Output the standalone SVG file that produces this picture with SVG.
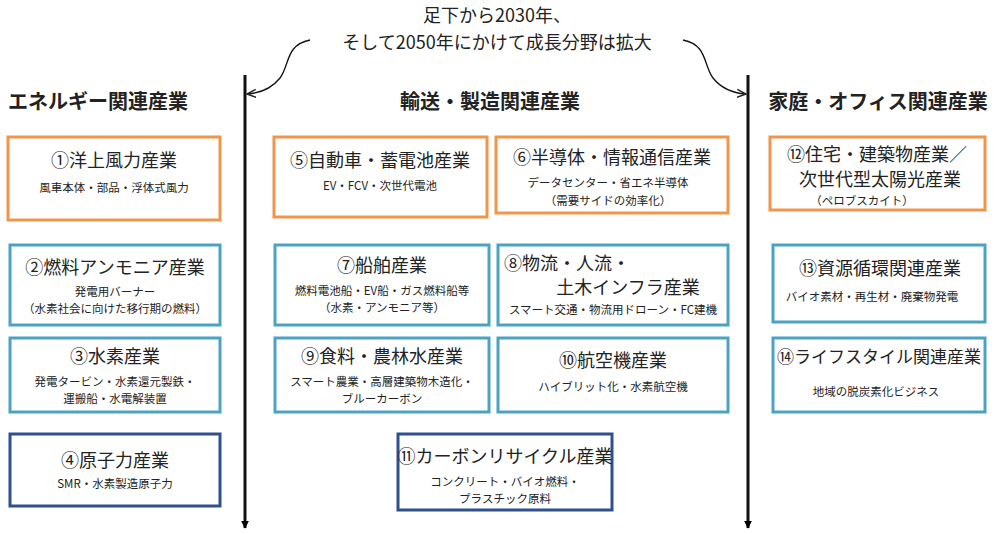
<svg xmlns="http://www.w3.org/2000/svg" width="996" height="534" viewBox="0 0 996 534">
<defs>
<marker id="ah" viewBox="0 0 10 10" refX="9" refY="5" markerWidth="8" markerHeight="8" orient="auto" markerUnits="userSpaceOnUse"><path d="M0,0 L10,5 L0,10 z" fill="#000"/></marker>
<marker id="oh" viewBox="0 0 10 10" refX="9" refY="5" markerWidth="10" markerHeight="10" orient="auto" markerUnits="userSpaceOnUse"><path d="M0,1 L9,5 L0,9" fill="none" stroke="#222" stroke-width="1.5"/></marker>
</defs>
<style>
text{font-family:"Noto Sans CJK JP","Liberation Sans",sans-serif;fill:#222;text-anchor:middle}
.o{fill:#fff;stroke:#F0964A;stroke-width:3}
.b{fill:#fff;stroke:#4BA3C3;stroke-width:3}
.d{fill:#fff;stroke:#2F4F8F;stroke-width:3}
.t{font-size:18px}
.s{font-size:11.5px}
.h{font-size:20px;font-weight:bold}
</style>
<rect width="996" height="534" fill="#fff"/>
<text x="497" y="22" font-size="18">足下から2030年、</text>
<text x="497" y="49" font-size="18">そして2050年にかけて成長分野は拡大</text>
<text x="8" y="109" class="h" style="text-anchor:start">エネルギー関連産業</text>
<text x="490" y="109" class="h">輸送・製造関連産業</text>
<text x="878" y="109" class="h">家庭・オフィス関連産業</text>
<g id="connectors" fill="none" stroke="#111">
<line x1="245" y1="75" x2="245" y2="528" stroke-width="3" marker-end="url(#ah)"/>
<line x1="748" y1="75" x2="748" y2="528" stroke-width="3" marker-end="url(#ah)"/>
<path d="M310,40 C285,45 290,65 280,78 C272,88 262,93 247,94" stroke-width="1.3" marker-end="url(#oh)"/>
<path d="M683,40 C708,45 703,65 713,78 C721,88 731,93 746,94" stroke-width="1.3" marker-end="url(#oh)"/>
</g>
<g id="n1"><rect class="o" x="8" y="137" width="212" height="83"/><text x="114" y="167" class="t">①洋上風力産業</text><text x="114" y="192" class="s">風車本体・部品・浮体式風力</text></g>
<g id="n2"><rect class="b" x="10" y="245" width="210" height="80"/><text x="115" y="274" class="t">②燃料アンモニア産業</text><text x="115" y="296" class="s">発電用バーナー</text><text x="115" y="313" class="s">（水素社会に向けた移行期の燃料）</text></g>
<g id="n3"><rect class="b" x="10" y="338" width="210" height="74"/><text x="115" y="363" class="t">③水素産業</text><text x="115" y="386" class="s">発電タービン・水素還元製鉄・</text><text x="115" y="403" class="s">運搬船・水電解装置</text></g>
<g id="n4"><rect class="d" x="10" y="434" width="210" height="72"/><text x="115" y="467" class="t">④原子力産業</text><text x="115" y="488" class="s">SMR・水素製造原子力</text></g>
<g id="n5"><rect class="o" x="274" y="137" width="213" height="80"/><text x="380" y="167" class="t">⑤自動車・蓄電池産業</text><text x="380" y="190" class="s">EV・FCV・次世代電池</text></g>
<g id="n6"><rect class="o" x="496" y="137" width="232" height="76"/><text x="612" y="164" class="t">⑥半導体・情報通信産業</text><text x="608" y="187" class="s">データセンター・省エネ半導体</text><text x="608" y="205" class="s">（需要サイドの効率化）</text></g>
<g id="n7"><rect class="b" x="275" y="245" width="214" height="80"/><text x="382" y="272" class="t">⑦船舶産業</text><text x="382" y="295" class="s">燃料電池船・EV船・ガス燃料船等</text><text x="382" y="312" class="s">（水素・アンモニア等）</text></g>
<g id="n8"><rect class="b" x="498" y="245" width="230" height="80"/><text x="567" y="270" class="t">⑧物流・人流・</text><text x="628" y="294" class="t">土木インフラ産業</text><text x="613" y="314" class="s">スマート交通・物流用ドローン・FC建機</text></g>
<g id="n9"><rect class="b" x="275" y="338" width="214" height="74"/><text x="382" y="363" class="t">⑨食料・農林水産業</text><text x="382" y="386" class="s">スマート農業・高層建築物木造化・</text><text x="382" y="403" class="s">ブルーカーボン</text></g>
<g id="n10"><rect class="b" x="498" y="338" width="230" height="74"/><text x="613" y="367" class="t">⑩航空機産業</text><text x="613" y="391" class="s">ハイブリット化・水素航空機</text></g>
<g id="n11"><rect class="d" x="398" y="434" width="214" height="76"/><text x="505" y="463" class="t">⑪カーボンリサイクル産業</text><text x="505" y="486" class="s">コンクリート・バイオ燃料・</text><text x="505" y="503" class="s">プラスチック原料</text></g>
<g id="n12"><rect class="o" x="770" y="137" width="215" height="73"/><text x="877" y="161" class="t">⑫住宅・建築物産業／</text><text x="880" y="186" class="t">次世代型太陽光産業</text><text x="862" y="205" class="s">（ペロブスカイト）</text></g>
<g id="n13"><rect class="b" x="773" y="245" width="212" height="77"/><text x="880" y="275" class="t">⑬資源循環関連産業</text><text x="872" y="301" class="s">バイオ素材・再生材・廃棄物発電</text></g>
<g id="n14"><rect class="b" x="773" y="338" width="212" height="74"/><text x="879" y="363" font-size="17">⑭ライフスタイル関連産業</text><text x="876" y="396" class="s">地域の脱炭素化ビジネス</text></g>
</svg>
